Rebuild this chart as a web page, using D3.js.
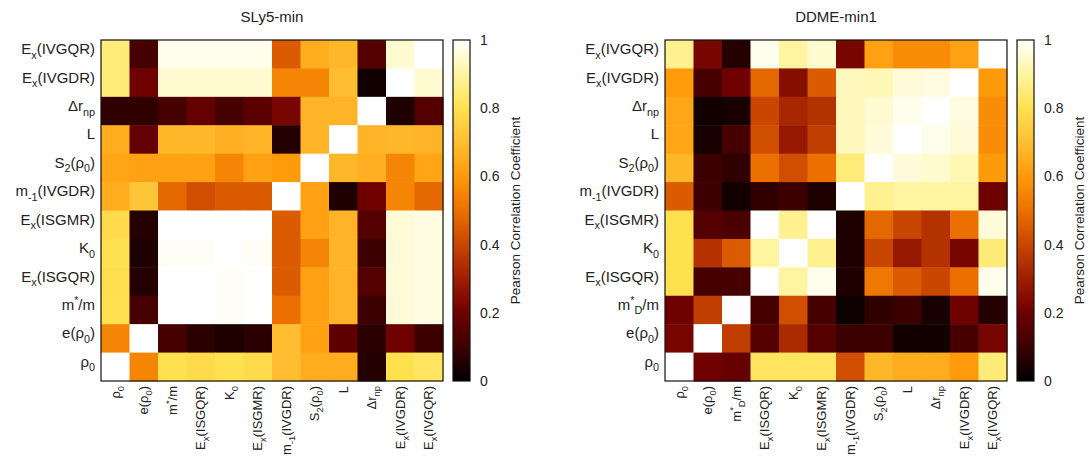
<!DOCTYPE html>
<html><head><meta charset="utf-8">
<script src="https://cdn.jsdelivr.net/npm/d3@7"></script>
<style>
body{margin:0;background:#fff}
text{font-family:"Liberation Sans",Arial,Helvetica,sans-serif;fill:#222}
</style>
</head><body>
<svg id="c" width="1090" height="457"></svg>
<script>
// ---------- data ----------
const slyTitle = "SLy5-min";
const ddmeTitle = "DDME-min1";
// column order (left to right); rows use the reverse order (top to bottom)
const slyVars = ["ρ_{0}","e(ρ_{0})","m^{*}/m","E_{x}(ISGQR)","K_{0}","E_{x}(ISGMR)","m_{-1}(IVGDR)","S_{2}(ρ_{0})","L","Δr_{np}","E_{x}(IVGDR)","E_{x}(IVGQR)"];
const ddmeVars = ["ρ_{0}","e(ρ_{0})","m^{*}_{D}/m","E_{x}(ISGQR)","K_{0}","E_{x}(ISGMR)","m_{-1}(IVGDR)","S_{2}(ρ_{0})","L","Δr_{np}","E_{x}(IVGDR)","E_{x}(IVGQR)"];
// rows listed from top (E_x(IVGQR)) to bottom (ρ0); columns in slyVars order
const slyCorr = [
  [0.85,0.12,0.98,0.98,0.98,0.98,0.45,0.65,0.68,0.15,0.95,1.00],
  [0.85,0.20,0.95,0.95,0.95,0.95,0.55,0.55,0.70,0.03,1.00,0.95],
  [0.08,0.08,0.12,0.18,0.12,0.16,0.22,0.67,0.67,1.00,0.05,0.15],
  [0.65,0.18,0.68,0.68,0.66,0.67,0.06,0.67,1.00,0.67,0.68,0.67],
  [0.63,0.62,0.62,0.62,0.55,0.62,0.60,1.00,0.68,0.66,0.55,0.63],
  [0.65,0.72,0.48,0.42,0.45,0.45,1.00,0.62,0.05,0.20,0.55,0.48],
  [0.78,0.06,1.00,1.00,1.00,1.00,0.45,0.62,0.67,0.15,0.96,0.97],
  [0.80,0.05,0.99,0.99,1.00,0.99,0.45,0.55,0.67,0.10,0.96,0.97],
  [0.79,0.06,1.00,1.00,0.99,1.00,0.45,0.62,0.67,0.15,0.96,0.97],
  [0.80,0.12,1.00,1.00,0.99,1.00,0.50,0.62,0.67,0.10,0.96,0.97],
  [0.55,1.00,0.12,0.07,0.05,0.07,0.70,0.62,0.17,0.07,0.20,0.10],
  [1.00,0.55,0.80,0.78,0.80,0.78,0.70,0.65,0.65,0.06,0.80,0.82]
];
const ddmeCorr = [
  [0.88,0.22,0.06,0.98,0.90,0.95,0.22,0.62,0.57,0.57,0.62,1.00],
  [0.60,0.12,0.20,0.48,0.25,0.45,0.93,0.92,0.96,0.97,1.00,0.60],
  [0.63,0.03,0.04,0.40,0.32,0.35,0.93,0.95,0.98,1.00,0.97,0.57],
  [0.63,0.04,0.12,0.42,0.28,0.38,0.93,0.96,1.00,0.98,0.96,0.57],
  [0.68,0.10,0.08,0.50,0.42,0.50,0.85,1.00,0.96,0.95,0.92,0.60],
  [0.45,0.10,0.03,0.08,0.10,0.05,1.00,0.88,0.90,0.90,0.90,0.20],
  [0.80,0.15,0.13,1.00,0.88,1.00,0.05,0.48,0.40,0.35,0.50,0.96],
  [0.80,0.35,0.45,0.90,1.00,0.88,0.05,0.40,0.28,0.35,0.22,0.85],
  [0.80,0.12,0.12,1.00,0.90,0.98,0.05,0.52,0.45,0.40,0.50,0.98],
  [0.20,0.38,1.00,0.12,0.42,0.12,0.02,0.08,0.10,0.04,0.20,0.06],
  [0.22,1.00,0.38,0.15,0.33,0.15,0.10,0.10,0.03,0.03,0.12,0.22],
  [1.00,0.20,0.18,0.82,0.82,0.82,0.42,0.68,0.65,0.65,0.60,0.85]
];
const cbTicks = [0,0.2,0.4,0.6,0.8,1];
const cbTitle = "Pearson Correlation Coefficient";

// ---------- palette ----------
const palStops = [0,0.1,0.2,0.3,0.4,0.5,0.6,0.7,0.8,0.9,1];
const palColors = ["#000000","#3c0000","#6e0000","#a01e00","#c84600","#eb7000","#ff9a0a","#ffbe32","#ffe150","#fff5a0","#ffffff"];
const color = d3.scaleLinear().domain(palStops).range(palColors).clamp(true);

const svg = d3.select("#c");
const defs = svg.append("defs");
const grad = defs.append("linearGradient").attr("id","cbg").attr("x1",0).attr("x2",0).attr("y1",1).attr("y2",0);
d3.range(0,1.0001,0.02).forEach(t=>grad.append("stop").attr("offset",t).attr("stop-color",color(t)));

function rich(sel, str, fs){
  sel.text(null);
  const re = /([_^])\{([^}]*)\}/g;
  let last = 0, m, cur = 0;
  const segs = [];
  while((m = re.exec(str))){
    if(m.index>last) segs.push({t:str.slice(last,m.index),s:0});
    segs.push({t:m[2], s: m[1]==="_" ? fs*0.3 : -fs*0.38});
    last = re.lastIndex;
  }
  if(last<str.length) segs.push({t:str.slice(last),s:0});
  segs.forEach(sg=>{
    const ts = sel.append("tspan").text(sg.t).attr("dy", (sg.s-cur)+"px");
    if(sg.s!==0) ts.attr("font-size",(fs*0.72)+"px");
    cur = sg.s;
  });
}

function panel(ox, title, vars, corr){
  const hx=ox, hy=40, hw=342, hh=341;
  const x = d3.scaleBand().domain(vars).range([hx,hx+hw]);
  const y = d3.scaleBand().domain(vars.slice().reverse()).range([hy,hy+hh]);
  const rowsTop = vars.slice().reverse();
  const g = svg.append("g");
  const cells = [];
  corr.forEach((row,i)=>row.forEach((v,j)=>cells.push({r:rowsTop[i],c:vars[j],v})));
  g.selectAll("rect.cell").data(cells).join("rect").attr("class","cell")
    .attr("x",d=>x(d.c)).attr("y",d=>y(d.r))
    .attr("width",x.bandwidth()+0.5).attr("height",y.bandwidth()+0.5)
    .attr("fill",d=>color(d.v));
  g.append("rect").attr("x",hx).attr("y",hy).attr("width",hw).attr("height",hh)
    .attr("fill","none").attr("stroke","#111").attr("stroke-width",1.2);
  const fs = 15, fsb = 13;
  // left axis
  const ya = g.append("g").attr("transform",`translate(${hx},0)`)
    .call(d3.axisLeft(y).tickSize(0).tickPadding(6));
  ya.select(".domain").remove();
  ya.selectAll("text").attr("font-size",fs+"px").attr("fill","#222").attr("dy","0.35em")
    .each(function(d){ rich(d3.select(this), d, fs); });
  // bottom axis
  const xa = g.append("g").attr("transform",`translate(0,${hy+hh})`)
    .call(d3.axisBottom(x).tickSize(0).tickPadding(5));
  xa.select(".domain").remove();
  xa.selectAll("text").attr("font-size",fsb+"px").attr("fill","#222")
    .attr("text-anchor","end").attr("transform","translate(4.5,5) rotate(-90)")
    .attr("x",0).attr("y",0).attr("dy",0)
    .each(function(d){ rich(d3.select(this), d, fsb); });
  // title
  g.append("text").attr("x",hx+hw/2).attr("y",21.5).attr("text-anchor","middle")
    .attr("font-size","15px").text(title);
  // colorbar
  const cbx = hx+hw+10, cbw = 17;
  g.append("rect").attr("x",cbx).attr("y",hy).attr("width",cbw).attr("height",hh)
    .attr("fill","url(#cbg)").attr("stroke","#111").attr("stroke-width",1.2);
  const cs = d3.scaleLinear().domain([0,1]).range([hy+hh,hy]);
  const ca = g.append("g").attr("transform",`translate(${cbx+cbw},0)`)
    .call(d3.axisRight(cs).tickValues(cbTicks).tickSize(0).tickPadding(10).tickFormat(d=>String(d)));
  ca.select(".domain").remove();
  ca.selectAll("text").attr("font-size","14px").attr("fill","#222");
  g.append("text").attr("transform",`translate(${cbx+cbw+50},${hy+hh/2}) rotate(-90)`)
    .attr("text-anchor","middle").attr("font-size","13.5px").text(cbTitle);
}
panel(101, slyTitle, slyVars, slyCorr);
panel(665, ddmeTitle, ddmeVars, ddmeCorr);
</script>
</body></html>
